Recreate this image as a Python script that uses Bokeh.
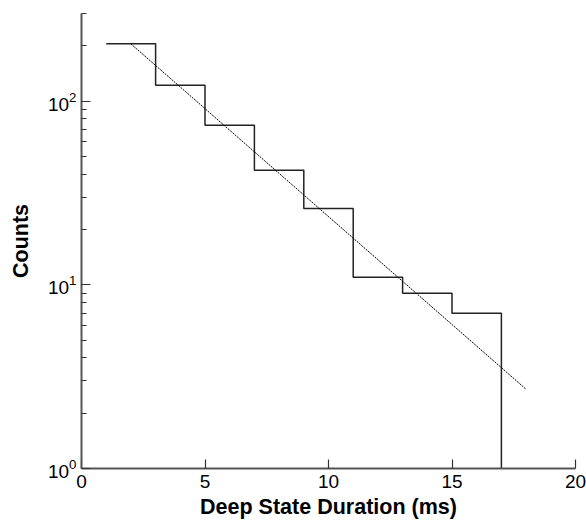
from bokeh.plotting import figure
from bokeh.models import FixedTicker, Range1d, LogTicker
from bokeh.embed import file_html
from bokeh.resources import INLINE

# Histogram bin edges (ms) and counts
bin_edges = [1, 3, 5, 7, 9, 11, 13, 15, 17]
counts = [205, 122, 74, 42, 26, 11, 9, 7]
baseline = 1

# Exponential fit line end points
fit_x = [2, 18]
fit_y = [205, 2.7]

# Tick values
x_ticks = [0, 5, 10, 15, 20]

x_title = "Deep State Duration (ms)"
y_title = "Counts"

# build step outline
sx, sy = [], []
for i, c in enumerate(counts):
    sx += [bin_edges[i], bin_edges[i + 1]]
    sy += [c, c]
sx.append(bin_edges[-1])
sy.append(baseline)

FONT = "Liberation Sans"
AX_COL = "#555555"
TICK_COL = "#333333"
x0, x1 = 0, 20
y0, y1 = 1, 300

p = figure(width=586, height=527, y_axis_type="log",
           x_range=Range1d(x0, x1), y_range=Range1d(y0, y1),
           output_backend="svg", toolbar_location=None,
           min_border_left=81, min_border_right=11,
           min_border_top=13, min_border_bottom=59)

p.line(sx, sy, line_color="#222222", line_width=1.5)
p.line(fit_x, fit_y, line_color="black", line_width=1, line_dash="2 1")

p.outline_line_color = None
p.xgrid.visible = False
p.ygrid.visible = False

for ax in (p.xaxis[0], p.yaxis[0]):
    ax.axis_line_color = AX_COL
    ax.axis_line_width = 2
    ax.major_tick_line_color = TICK_COL
    ax.minor_tick_line_color = TICK_COL
    ax.major_tick_line_width = 1.2
    ax.minor_tick_line_width = 1.2
    ax.major_tick_out = 0
    ax.minor_tick_out = 0
    ax.major_label_text_font = FONT
    ax.major_label_text_font_size = "19px"
    ax.major_label_text_color = "black"
    ax.axis_label_text_font = FONT
    ax.axis_label_text_font_size = "21.5px"
    ax.axis_label_text_font_style = "bold"
    ax.axis_label_text_color = "black"

p.xaxis.ticker = FixedTicker(ticks=x_ticks, minor_ticks=[])
p.xaxis.major_tick_in = 9
p.xaxis.minor_tick_in = 0
p.xaxis.major_label_standoff = 6
p.xaxis.axis_label = x_title
p.xaxis.axis_label_standoff = 4

p.yaxis.ticker = LogTicker(num_minor_ticks=10)
p.yaxis.major_tick_in = 9
p.yaxis.minor_tick_in = 5
p.yaxis.major_label_standoff = 5
p.yaxis.axis_label = y_title
p.yaxis.axis_label_standoff = 12

open("out.html", "w").write(file_html(p, INLINE))
